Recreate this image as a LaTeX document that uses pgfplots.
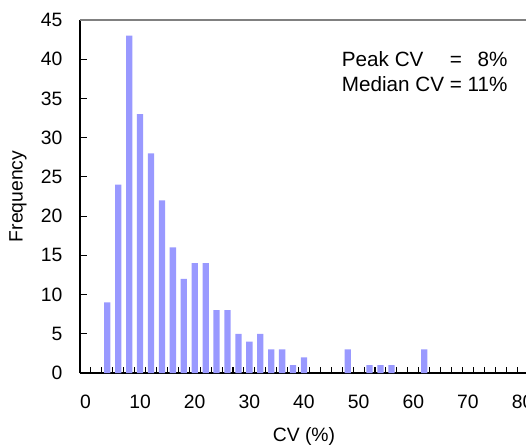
\documentclass[border=0pt]{standalone}
\usepackage{pgfplots}
\pgfplotsset{compat=1.18}
\usepackage{fontspec}
\setmainfont{Liberation Sans}
\definecolor{barblue}{RGB}{153,153,255}

\begin{document}
\begin{tikzpicture}
% reference image is cropped on the right, keep that
\useasboundingbox (-60pt,-53.25pt) rectangle (334.5pt,279.75pt);
\clip (-60pt,-53.25pt) rectangle (334.5pt,279.75pt);
\begin{axis}[
  scale only axis, width=336pt, height=264.75pt,
  xmin=-1, xmax=81, ymin=0, ymax=45,
  axis lines=left, axis line style={-, black, line width=0.9pt},
  font=\fontsize{14.5}{17}\selectfont,
  /pgf/number format/assume math mode=true,
  xtick={0,10,...,80}, minor xtick={-1,1,...,81},
  ytick={0,5,...,45},
  tick align=inside,
  major x tick style={draw=none},
  minor tick length=4.5pt, major tick length=5.25pt,
  tick style={black, line width=0.8pt},
  xticklabel style={anchor=north, inner sep=0pt, yshift=-16pt},
  yticklabel style={anchor=east, inner sep=0pt, xshift=-13pt},
  xlabel={CV (\%)}, ylabel={Frequency},
  xlabel style={at={(axis description cs:0.5,-0.1785)}, anchor=center},
  ylabel style={at={(axis description cs:-0.1384,0.5)}, anchor=center},
  clip=false,
]
\draw[gray, line width=0.9pt] (rel axis cs:0,1) -- (rel axis cs:1,1);
\addplot[ybar, bar width=1.15, fill=barblue, draw=none] coordinates {
  (4,9) (6,24) (8,43) (10,33) (12,28) (14,22) (16,16) (18,12) (20,14) (22,14)
  (24,8) (26,8) (28,5) (30,4) (32,5) (34,3) (36,3) (38,1) (40,2)
  (48,3) (52,1) (54,1) (56,1) (62,3)};
\node[anchor=north west, inner sep=0pt, font=\fontsize{15.5}{18.75}\selectfont]
  at (axis cs:46.9,41.3)
  {\begin{tabular}{@{}l@{\ }c@{\ }r@{}}Peak CV & = & 8\%\\ Median CV & = & 11\%\end{tabular}};
\end{axis}
\end{tikzpicture}
\end{document}
